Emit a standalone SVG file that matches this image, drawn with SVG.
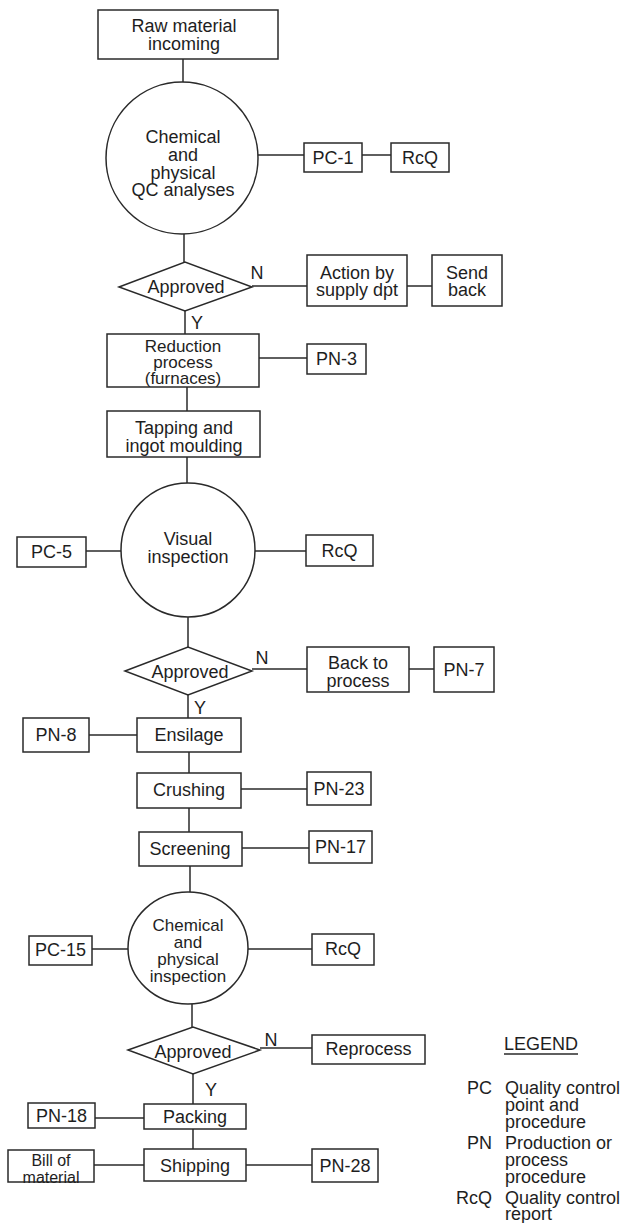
<svg xmlns="http://www.w3.org/2000/svg" width="620" height="1223" viewBox="0 0 620 1223">
<style>
.b{fill:#fff;stroke:#2a2a2a;stroke-width:1.5}
.c{stroke:#2a2a2a;stroke-width:1.5;fill:none}
text{font-family:"Liberation Sans",Arial,sans-serif;font-size:18px;fill:#1e1e1e;text-anchor:middle;dominant-baseline:central}
.s{font-size:16px}
.m{font-size:17px}
.l{text-anchor:start}
.r{text-anchor:end}
</style>
<rect width="620" height="1223" fill="#fff"/>
<g id="connectors">
<line class="c" x1="183" y1="59" x2="183" y2="82"/>
<line class="c" x1="258" y1="155" x2="304" y2="155"/>
<line class="c" x1="362" y1="155" x2="391" y2="155"/>
<line class="c" x1="184" y1="234" x2="184" y2="262"/>
<line class="c" x1="252" y1="286" x2="307" y2="286"/>
<line class="c" x1="407" y1="286" x2="432" y2="286"/>
<line class="c" x1="185" y1="311" x2="185" y2="334"/>
<line class="c" x1="259" y1="358" x2="307" y2="358"/>
<line class="c" x1="187" y1="387" x2="187" y2="411"/>
<line class="c" x1="187" y1="457" x2="187" y2="483"/>
<line class="c" x1="86" y1="551" x2="121" y2="551"/>
<line class="c" x1="255" y1="551" x2="306" y2="551"/>
<line class="c" x1="188" y1="617" x2="188" y2="647"/>
<line class="c" x1="252" y1="669" x2="307" y2="669"/>
<line class="c" x1="409" y1="669" x2="434" y2="669"/>
<line class="c" x1="188" y1="695" x2="188" y2="718"/>
<line class="c" x1="89" y1="735" x2="137" y2="735"/>
<line class="c" x1="189" y1="752" x2="189" y2="773"/>
<line class="c" x1="241" y1="789" x2="307" y2="789"/>
<line class="c" x1="189" y1="808" x2="189" y2="832"/>
<line class="c" x1="242" y1="848" x2="309" y2="848"/>
<line class="c" x1="190" y1="866" x2="190" y2="892"/>
<line class="c" x1="92" y1="949" x2="128" y2="949"/>
<line class="c" x1="248" y1="949" x2="312" y2="949"/>
<line class="c" x1="192" y1="1004" x2="192" y2="1027"/>
<line class="c" x1="260" y1="1048" x2="312" y2="1048"/>
<line class="c" x1="193" y1="1074" x2="193" y2="1104"/>
<line class="c" x1="95" y1="1118" x2="144" y2="1118"/>
<line class="c" x1="193" y1="1129" x2="193" y2="1149"/>
<line class="c" x1="94" y1="1165" x2="144" y2="1165"/>
<line class="c" x1="246" y1="1165" x2="312" y2="1165"/>
<text x="257" y="273">N</text>
<text x="197" y="323">Y</text>
<text x="262" y="658">N</text>
<text x="200" y="708">Y</text>
<text x="271" y="1040">N</text>
<text x="211" y="1090">Y</text>
</g>
<g id="raw"><rect class="b" x="98" y="10" width="180" height="49"/><text x="184" y="26">Raw material</text><text x="184" y="44">incoming</text></g>
<g id="qc1"><circle class="b" cx="182" cy="158" r="76"/><text x="183" y="137">Chemical</text><text x="183" y="155">and</text><text x="183" y="173">physical</text><text x="183" y="190">QC analyses</text></g>
<g id="pc1"><rect class="b" x="304" y="143" width="58" height="29"/><text x="333" y="158">PC-1</text></g>
<g id="rcq1"><rect class="b" x="391" y="143" width="58" height="29"/><text x="420" y="158">RcQ</text></g>
<g id="approved1"><polygon class="b" points="119,287 185,262 252,287 185,311"/><text x="186" y="287">Approved</text></g>
<g id="action"><rect class="b" x="307" y="255" width="100" height="51"/><text x="357" y="273">Action by</text><text x="357" y="290">supply dpt</text></g>
<g id="sendback"><rect class="b" x="432" y="255" width="70" height="51"/><text x="467" y="273">Send</text><text x="467" y="290">back</text></g>
<g id="reduction"><rect class="b" x="107" y="334" width="152" height="53"/><text class="m" x="183" y="346">Reduction</text><text class="m" x="183" y="362">process</text><text class="m" x="183" y="378">(furnaces)</text></g>
<g id="pn3"><rect class="b" x="307" y="344" width="59" height="30"/><text x="336.5" y="359">PN-3</text></g>
<g id="tapping"><rect class="b" x="107" y="411" width="153" height="46"/><text x="184" y="428">Tapping and</text><text x="184" y="446">ingot moulding</text></g>
<g id="visual"><circle class="b" cx="188" cy="550" r="67"/><text x="188" y="539">Visual</text><text x="188" y="557">inspection</text></g>
<g id="pc5"><rect class="b" x="17" y="537" width="69" height="30"/><text x="51.5" y="552">PC-5</text></g>
<g id="rcq2"><rect class="b" x="306" y="535" width="67" height="31"/><text x="339.5" y="551">RcQ</text></g>
<g id="approved2"><polygon class="b" points="125,671 188,647 252,671 188,695"/><text x="190" y="672">Approved</text></g>
<g id="backto"><rect class="b" x="307" y="647" width="102" height="45"/><text x="358" y="663">Back to</text><text x="358" y="681">process</text></g>
<g id="pn7"><rect class="b" x="434" y="647" width="60" height="45"/><text x="464" y="670">PN-7</text></g>
<g id="ensilage"><rect class="b" x="137" y="718" width="104" height="34"/><text x="189" y="735">Ensilage</text></g>
<g id="pn8"><rect class="b" x="23" y="718" width="66" height="34"/><text x="56" y="735">PN-8</text></g>
<g id="crushing"><rect class="b" x="137" y="773" width="104" height="35"/><text x="189" y="790">Crushing</text></g>
<g id="pn23"><rect class="b" x="307" y="772" width="64" height="33"/><text x="339" y="789">PN-23</text></g>
<g id="screening"><rect class="b" x="139" y="832" width="103" height="34"/><text x="190" y="849">Screening</text></g>
<g id="pn17"><rect class="b" x="309" y="831" width="63" height="32"/><text x="340.5" y="847">PN-17</text></g>
<g id="qc2"><ellipse class="b" cx="188" cy="948" rx="60" ry="56"/><text class="m" x="188" y="925">Chemical</text><text class="m" x="188" y="942">and</text><text class="m" x="188" y="959">physical</text><text class="m" x="188" y="976">inspection</text></g>
<g id="pc15"><rect class="b" x="29" y="936" width="63" height="29"/><text x="60.5" y="950">PC-15</text></g>
<g id="rcq3"><rect class="b" x="312" y="934" width="62" height="31"/><text x="343" y="949">RcQ</text></g>
<g id="approved3"><polygon class="b" points="128,1050 193,1027 260,1050 193,1074"/><text x="193" y="1052">Approved</text></g>
<g id="reprocess"><rect class="b" x="312" y="1035" width="113" height="29"/><text x="368.5" y="1049">Reprocess</text></g>
<g id="packing"><rect class="b" x="144" y="1104" width="102" height="25"/><text x="195" y="1117">Packing</text></g>
<g id="pn18"><rect class="b" x="28" y="1103" width="67" height="25"/><text x="61.5" y="1116">PN-18</text></g>
<g id="shipping"><rect class="b" x="144" y="1149" width="102" height="32"/><text x="195" y="1166">Shipping</text></g>
<g id="bill"><rect class="b" x="8" y="1150" width="86" height="32"/><text class="s" x="51" y="1160">Bill of</text><text class="s" x="51" y="1177">material</text></g>
<g id="pn28"><rect class="b" x="312" y="1149" width="66" height="33"/><text x="345" y="1166">PN-28</text></g>
<g id="legend">
<text x="541" y="1044">LEGEND</text>
<line class="c" x1="504" y1="1054" x2="578" y2="1054"/>
<text class="r" x="492" y="1088">PC</text>
<text class="l" x="505" y="1088">Quality control</text>
<text class="l" x="505" y="1105">point and</text>
<text class="l" x="505" y="1122">procedure</text>
<text class="r" x="492" y="1143">PN</text>
<text class="l" x="505" y="1143">Production or</text>
<text class="l" x="505" y="1160">process</text>
<text class="l" x="505" y="1177">procedure</text>
<text class="r" x="492" y="1198">RcQ</text>
<text class="l" x="505" y="1198">Quality control</text>
<text class="l" x="505" y="1214">report</text>
</g>
</svg>
